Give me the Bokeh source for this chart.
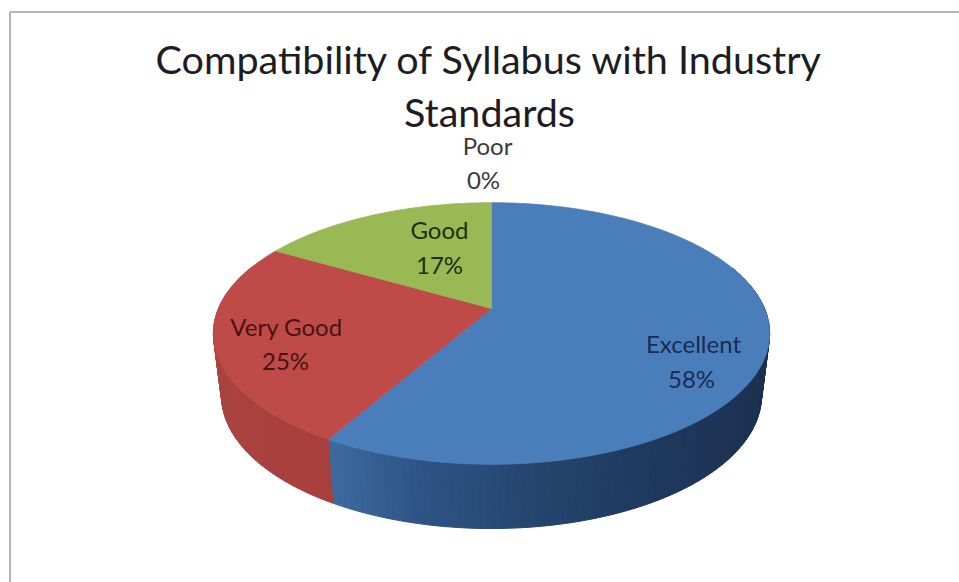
import math
from bokeh.plotting import figure
from bokeh.models import Range1d
from bokeh.core.properties import value
from bokeh.embed import file_html
from bokeh.resources import INLINE

categories = ["Excellent", "Very Good", "Good", "Poor"]
shares = [58.33, 25.0, 16.67, 0.0]
percent_labels = ["58%", "25%", "17%", "0%"]
title_lines = ["Compatibility of Syllabus with Industry", "Standards"]

top_colors = ["#4a7ebb", "#be4b48", "#98b954", "#7d60a0"]
ink = ["#1a2b55", "#4a1212", "#1d3008", "#3a3a3a"]
wall_stops = {
    0: [(0.0, "#3d6b9f"), (0.2, "#2e5485"), (0.45, "#264670"), (0.7, "#1f3a60"), (1.0, "#1b3050")],
    1: [(0.0, "#a83f3c"), (0.6, "#ab4441"), (1.0, "#b34d4a")],
    2: [(0.0, "#7d9a42"), (1.0, "#7d9a42")],
}
label_pos = [((693, 343), (691, 378)), ((286, 326), (285, 360)), ((439, 229), (439, 264)), ((487, 145), (483, 179))]

W, H = 959, 582
CX, K = 491.0, 0.191
TOP = dict(a=273.0, b=126.0, y0=308.0)
BOT = dict(a=265.0, b=128.1, y0=369.7)


def project(theta, g):
    X, Z = math.sin(theta), math.cos(theta)
    w = 1 + K * Z
    return CX + g["a"] * X / w, g["y0"] - g["b"] * Z / w


def hex2rgb(c):
    return tuple(int(c[i:i + 2], 16) for i in (1, 3, 5))


def ramp(stops, f):
    for (f0, c0), (f1, c1) in zip(stops, stops[1:]):
        if f <= f1:
            t = (f - f0) / (f1 - f0)
            a, b = hex2rgb(c0), hex2rgb(c1)
            return "#%02x%02x%02x" % tuple(round(a[i] + (b[i] - a[i]) * t) for i in range(3))
    return stops[-1][1]


p = figure(width=W, height=H, output_backend="svg", toolbar_location=None,
           x_range=Range1d(0, W), y_range=Range1d(H, 0), min_border=0)
p.axis.visible = False
p.grid.visible = False
p.outline_line_color = None
p.background_fill_color = "#ffffff"
p.border_fill_color = "#ffffff"

# chart frame: only its top and left edges are in the picture
p.line([9.5, 9.5, W], [H, 11.5, 11.5], line_color="#b4b4b4", line_width=2)

# side wall
total = sum(shares)
xs, ys, cs = [], [], []
start = 0.0
for i, s in enumerate(shares):
    if s <= 0:
        continue
    t0, t1 = start, start + s / total * 2 * math.pi
    start = t1
    n = max(2, int(s * 3))
    for j in range(n):
        a0 = t0 + (t1 - t0) * j / n
        a1 = t0 + (t1 - t0) * (j + 1) / n
        am = (a0 + a1) / 2
        if math.cos(am) > 0.35:
            continue
        px0, py0 = project(a0, TOP)
        px1, py1 = project(a1, TOP)
        qx1, qy1 = project(a1, BOT)
        qx0, qy0 = project(a0, BOT)
        xs.append([px0, px1, qx1, qx0])
        ys.append([py0, py1, qy1, qy0])
        f = (j + 0.5) / n
        if i == 0:
            f = min(1.0, max(0.0, ((px0 + px1) / 2 - 328) / 442))
        cs.append(ramp(wall_stops[i], f))
p.patches(xs, ys, fill_color=cs, line_color=cs, line_width=1)

# top of the pie
start = 0.0
for i, s in enumerate(shares):
    if s <= 0:
        continue
    t0, t1 = start, start + s / total * 2 * math.pi
    start = t1
    n = max(8, int(s * 4))
    pts = [project(t0 + (t1 - t0) * j / n, TOP) for j in range(n + 1)]
    px = [CX] + [q[0] for q in pts]
    py = [TOP["y0"]] + [q[1] for q in pts]
    p.patch(px, py, fill_color=top_colors[i], line_color=top_colors[i], line_width=0.8)

font = value("Lato")
p.text([489, 489], [58, 111], text=title_lines, text_font=font, text_font_size="39.5px",
       text_color="#1c1c22", text_align="center", text_baseline="middle")
for name, pct, (a, b), c in zip(categories, percent_labels, label_pos, ink):
    p.text([a[0]], [a[1]], text=[name], text_font=font, text_font_size="24px", text_color=c,
           text_align="center", text_baseline="middle")
    p.text([b[0]], [b[1]], text=[pct], text_font=font, text_font_size="24px", text_color=c,
           text_align="center", text_baseline="middle")

open("out.html", "w").write(file_html(p, INLINE))
